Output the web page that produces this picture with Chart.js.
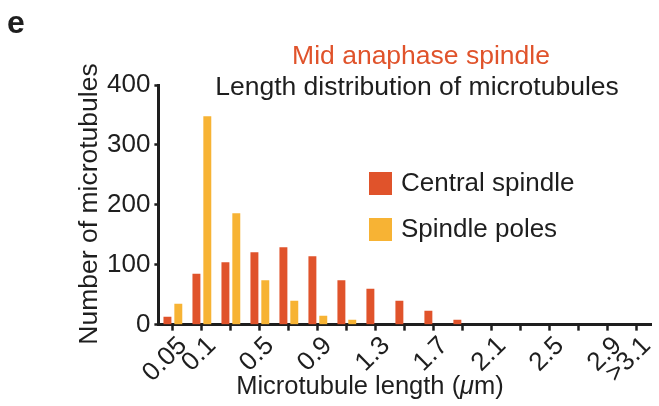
<!DOCTYPE html>
<html>
<head>
<meta charset="utf-8">
<script src="https://cdn.jsdelivr.net/npm/chart.js@4"></script>
<style>
  html, body { margin: 0; padding: 0; background: #fff; }
  #wrap { width: 659px; height: 406px; position: relative; }
</style>
</head>
<body>
<div id="wrap"><canvas id="myChart"></canvas></div>
<script>
// length bins (um)
var lengthBins = ['0.05', '0.1', '0.3', '0.5', '0.7', '0.9', '1.1', '1.3', '1.5', '1.7', '1.9', '2.1', '2.3', '2.5', '2.7', '2.9', '>3.1'];
// only these bins get a label on the x axis
var labelledBins = ['0.05', '0.1', '0.5', '0.9', '1.3', '1.7', '2.1', '2.5', '2.9', '>3.1'];
var centralSpindle = [13, 85, 104, 121, 129, 114, 74, 60, 40, 23, 8, 0, 0, 0, 0, 0, 0];
var spindlePoles = [35, 348, 186, 74, 40, 15, 8, 0, 0, 0, 0, 0, 0, 0, 0, 0, 0];
var yTicks = [0, 100, 200, 300, 400];

var RED = '#E0532B';
var YELLOW = '#F7B334';
var INK = '#1e1e1e';
var FONT = '"Liberation Sans", Arial, Helvetica, sans-serif';

var textPlugin = {
    id: 'figureText',
    afterDraw: function (chart) {
        var c = chart.ctx;
        c.save();

        // panel letter
        c.fillStyle = INK;
        c.font = 'bold 32px ' + FONT;
        c.textAlign = 'left';
        c.textBaseline = 'alphabetic';
        c.fillText('e', 7, 33);

        // titles
        c.font = '26.5px ' + FONT;
        c.textAlign = 'center';
        c.fillStyle = RED;
        c.fillText('Mid anaphase spindle', 421, 64);
        c.fillStyle = INK;
        c.fillText('Length distribution of microtubules', 417, 95);

        // legend
        var items = [['Central spindle', RED], ['Spindle poles', YELLOW]];
        c.font = '26px ' + FONT;
        c.textAlign = 'left';
        c.textBaseline = 'middle';
        items.forEach(function (it, i) {
            var y = 172 + i * 46;
            c.fillStyle = it[1];
            c.fillRect(369, y, 23, 23);
            c.fillStyle = INK;
            c.fillText(it[0], 401, y + 12);
        });

        // y axis title
        c.save();
        c.font = '26.5px ' + FONT;
        c.translate(97, 204);
        c.rotate(-Math.PI / 2);
        c.textAlign = 'center';
        c.textBaseline = 'alphabetic';
        c.fillText('Number of microtubules', 0, 0);
        c.restore();

        // x axis title with italic mu
        var a = 'Microtubule length (', mu = '\u03bc', b = 'm)';
        var fs = '25.5px ';
        c.textAlign = 'left';
        c.textBaseline = 'alphabetic';
        c.font = fs + FONT;
        var wa = c.measureText(a).width, wb = c.measureText(b).width;
        c.font = 'italic ' + fs + FONT;
        var wm = c.measureText(mu).width;
        var x0 = 370 - (wa + wm + wb) / 2;
        c.font = fs + FONT;
        c.fillText(a, x0, 394);
        c.font = 'italic ' + fs + FONT;
        c.fillText(mu, x0 + wa, 394);
        c.font = fs + FONT;
        c.fillText(b, x0 + wa + wm, 394);

        c.restore();
    }
};

document.addEventListener('DOMContentLoaded', function () {
    var ctx = document.getElementById('myChart').getContext('2d');
    new Chart(ctx, {
        type: 'bar',
        data: {
            labels: lengthBins,
            datasets: [{
                label: 'Central spindle',
                data: centralSpindle,
                backgroundColor: RED,
                barPercentage: 0.73,
                categoryPercentage: 0.75
            }, {
                label: 'Spindle poles',
                data: spindlePoles,
                backgroundColor: YELLOW,
                barPercentage: 0.73,
                categoryPercentage: 0.75
            }]
        },
        options: {
            responsive: true,
            maintainAspectRatio: false,
            animation: false,
            layout: {
                padding: { left: 103, right: 6, top: 85, bottom: 17 }
            },
            plugins: {
                legend: { display: false },
                title: { display: false },
                tooltip: { enabled: false }
            },
            scales: {
                x: {
                    offset: true,
                    border: { display: true, color: INK, width: 3 },
                    grid: {
                        display: true,
                        offset: false,
                        drawOnChartArea: false,
                        drawTicks: true,
                        tickLength: 6,
                        tickWidth: 2.5,
                        tickColor: INK
                    },
                    ticks: {
                        autoSkip: false,
                        minRotation: 45,
                        maxRotation: 45,
                        labelOffset: 10,
                        padding: 0,
                        color: INK,
                        font: { family: FONT, size: 26 },
                        callback: function (value, index) {
                            var lab = lengthBins[index];
                            return labelledBins.indexOf(lab) >= 0 ? lab : '';
                        }
                    }
                },
                y: {
                    min: yTicks[0],
                    max: yTicks[yTicks.length - 1],
                    border: { display: true, color: INK, width: 3 },
                    grid: {
                        display: true,
                        drawOnChartArea: false,
                        drawTicks: true,
                        tickLength: 4,
                        tickWidth: 2.5,
                        tickColor: INK
                    },
                    afterBuildTicks: function (scale) {
                        scale.ticks = yTicks.map(function (v) { return { value: v }; });
                    },
                    ticks: {
                        padding: 4,
                        color: INK,
                        font: { family: FONT, size: 26 }
                    }
                }
            }
        },
        plugins: [textPlugin]
    });
});
</script>
</body>
</html>
